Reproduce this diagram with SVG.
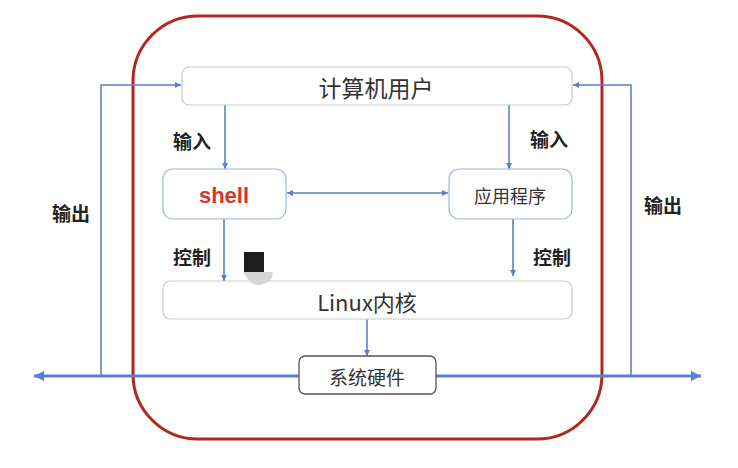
<svg xmlns="http://www.w3.org/2000/svg" width="738" height="468" viewBox="0 0 738 468">
<style>
.box{fill:#fff;stroke:#c9c9c9;stroke-width:1.2}
.bbox{fill:#fff;stroke:#9fb4e3;stroke-width:1.2}
.hbox{fill:#fff;stroke:#555;stroke-width:1.3}
.ln{fill:none;stroke:#5b7fcf;stroke-width:1.6}
.main{fill:none;stroke:#5b7fcf;stroke-width:3}
.t{font-family:"Noto Sans CJK SC","Noto Sans",sans-serif;fill:#333;text-anchor:middle;dominant-baseline:central}
.lbl{font-family:"Noto Sans CJK SC","Noto Sans",sans-serif;fill:#222;font-weight:bold;font-size:19px;text-anchor:middle;dominant-baseline:central}
</style>
<defs>
<marker id="ah" viewBox="0 0 10 10" refX="10" refY="5" markerWidth="6" markerHeight="6" markerUnits="userSpaceOnUse" orient="auto-start-reverse">
<path d="M0,0 L10,5 L0,10 z" fill="#5b7fcf"/>
</marker>
<marker id="ahb" viewBox="0 0 10 10" refX="10" refY="5" markerWidth="11" markerHeight="10" markerUnits="userSpaceOnUse" orient="auto-start-reverse">
<path d="M0,0 L10,5 L0,10 z" fill="#5b7fcf"/>
</marker>
</defs>
<rect width="738" height="468" fill="#fff"/>
<rect id="kernel-boundary" x="133" y="16" width="469" height="423" rx="65" ry="65" fill="none" stroke="#b0281f" stroke-width="3"/>
<g id="connectors">
<path class="main" d="M34,376 H701" marker-start="url(#ahb)" marker-end="url(#ahb)"/>
<path class="ln" d="M101,376 V85 H181" marker-end="url(#ah)"/>
<path class="ln" d="M631,376 V85 H573" marker-end="url(#ah)"/>
<path class="ln" d="M225,105 V169" marker-end="url(#ah)"/>
<path class="ln" d="M509,105 V169" marker-end="url(#ah)"/>
<path class="ln" d="M287,193 H448" marker-start="url(#ah)" marker-end="url(#ah)"/>
<path class="ln" d="M224,219 V281" marker-end="url(#ah)"/>
<path class="ln" d="M513,219 V276" marker-end="url(#ah)"/>
<path class="ln" d="M367,319 V356" marker-end="url(#ah)"/>
</g>
<g id="user"><rect class="box" x="182" y="67" width="390" height="38" rx="7"/><text class="t" x="376" y="87" font-size="23">计算机用户</text></g>
<g id="shell"><rect class="bbox" x="163" y="169" width="123" height="50" rx="10"/><text x="224" y="195" font-family="'Liberation Sans',Arial,sans-serif" font-weight="bold" font-size="22" fill="#d8352a" text-anchor="middle" dominant-baseline="central">shell</text></g>
<g id="app"><rect class="bbox" x="449" y="169" width="123" height="50" rx="10"/><text class="t" x="510" y="195" font-size="18">应用程序</text></g>
<g id="kernel"><rect class="box" x="163" y="281" width="409" height="38" rx="7"/><text class="t" x="367" y="301" font-size="22">Linux内核</text></g>
<g id="hardware"><rect class="hbox" x="299" y="356" width="137" height="38" rx="6"/><text class="t" x="367" y="376" font-size="19">系统硬件</text></g>
<g id="labels">
<text class="lbl" x="192" y="140">输入</text>
<text class="lbl" x="549" y="138">输入</text>
<text class="lbl" x="192" y="256">控制</text>
<text class="lbl" x="552" y="256">控制</text>
<text class="lbl" x="71" y="212">输出</text>
<text class="lbl" x="663" y="204">输出</text>
</g>
<path d="M243,272 H273 C273,280 266,285 258,285 C252,285 248,280 243,272 Z" fill="#d6d6d6"/>
<rect x="244" y="252" width="20" height="20" fill="#1e1e1e"/>
</svg>
